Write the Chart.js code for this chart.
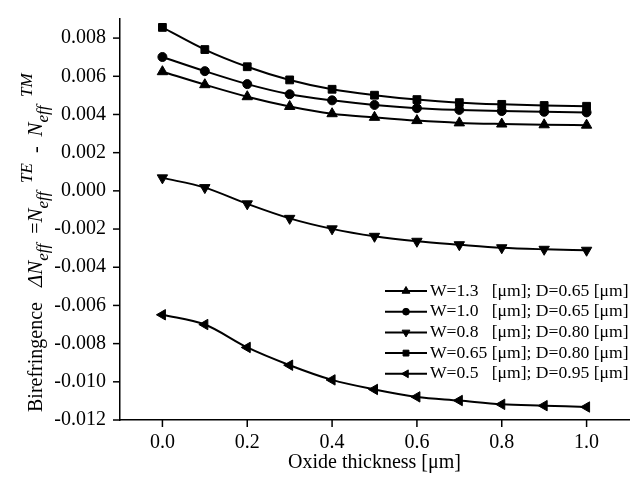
<!DOCTYPE html>
<html>
<head>
<meta charset="utf-8">
<script src="https://cdn.jsdelivr.net/npm/chart.js@4.4.1/dist/chart.umd.min.js"></script>
<style>
  html, body { margin: 0; padding: 0; background: #fff; }
  #wrap { width: 638px; height: 484px; }
</style>
</head>
<body>
<div id="wrap"><canvas id="birefChart" width="638" height="484"></canvas></div>
<script>
// Oxide thickness values (x) in um
const oxideThickness = [0.0, 0.1, 0.2, 0.3, 0.4, 0.5, 0.6, 0.7, 0.8, 0.9, 1.0];

// waveguide width / depth for each curve (legend text)
const widths = ['1.3', '1.0', '0.8', '0.65', '0.5'];
const depths = ['0.65', '0.65', '0.80', '0.80', '0.95'];

// birefringence
const biref13 = [0.00624, 0.00556, 0.00493, 0.00442, 0.00404, 0.00385, 0.00368, 0.00356, 0.00350, 0.00346, 0.00344];
const biref10 = [0.00701, 0.00627, 0.00559, 0.00506, 0.00474, 0.00450, 0.00433, 0.00424, 0.00418, 0.00414, 0.00411];
const biref08 = [0.00068, 0.00017, -0.00068, -0.00144, -0.00199, -0.00238, -0.00264, -0.00282, -0.00298, -0.00306, -0.00311];
const biref065 = [0.00856, 0.00740, 0.00650, 0.00581, 0.00532, 0.00501, 0.00478, 0.00462, 0.00453, 0.00447, 0.00443];
const biref05 = [-0.00649, -0.00700, -0.00820, -0.00913, -0.00990, -0.01040, -0.01079, -0.01098, -0.01118, -0.01125, -0.01132];

const seriesValues = [biref13, biref10, biref08, biref065, biref05];
const markers = [
    { style: 'triangle', rotation: 0, radius: 6 },
    { style: 'circle', rotation: 0, radius: 4.5 },
    { style: 'triangle', rotation: 180, radius: 6 },
    { style: 'rect', rotation: 0, radius: 5.5 },
    { style: 'triangle', rotation: -90, radius: 6 }
];

const SERIF = '"Liberation Serif", "Times New Roman", serif';

// tick marks: long on labelled ticks, short in between
const axisTicks = {
    id: 'axisTicks',
    afterDraw(chart) {
        const { ctx, scales: { x, y } } = chart;
        ctx.save();
        ctx.strokeStyle = '#000';
        ctx.lineWidth = 1.5;
        x.ticks.forEach(t => {
            const px = x.getPixelForValue(t.value);
            const len = t.label !== null && t.label !== undefined ? 7 : 4;
            ctx.beginPath();
            ctx.moveTo(px, x.top);
            ctx.lineTo(px, x.top + len);
            ctx.stroke();
        });
        y.ticks.forEach(t => {
            const py = y.getPixelForValue(t.value);
            const len = t.label !== null && t.label !== undefined ? 7 : 4;
            ctx.beginPath();
            ctx.moveTo(y.right, py);
            ctx.lineTo(y.right - len, py);
            ctx.stroke();
        });
        ctx.restore();
    }
};

// rotated y title with sub/superscripts
const yTitle = {
    id: 'yTitle',
    afterDraw(chart) {
        const ctx = chart.ctx;
        const reg = '20px ' + SERIF;
        const ital = 'italic 21px ' + SERIF;
        const small = 'italic 17px ' + SERIF;
        const parts = [
            { t: 'Birefringence   ', f: reg, dy: 0 },
            { t: '\u0394N', f: ital, dy: 0 },
            { t: 'eff', f: small, dy: 6 },
            { t: '  =', f: reg, dy: 0 },
            { t: 'N', f: ital, dy: 0 },
            { t: 'eff', f: small, dy: 6 },
            { t: '  TE', f: small, dy: -10 },
            { t: '  -  ', f: reg, dy: 0 },
            { t: 'N', f: ital, dy: 0 },
            { t: 'eff', f: small, dy: 6 },
            { t: '  TM', f: small, dy: -10 }
        ];
        ctx.save();
        ctx.translate(42, chart.chartArea.bottom - 8);
        ctx.rotate(-Math.PI / 2);
        ctx.fillStyle = '#000';
        ctx.textBaseline = 'alphabetic';
        let pos = 0;
        parts.forEach(p => {
            ctx.font = p.f;
            ctx.fillText(p.t, pos, p.dy);
            pos += ctx.measureText(p.t).width;
        });
        ctx.restore();
    }
};

// legend drawn inside the plot, line + marker + text
const legendBox = {
    id: 'legendBox',
    afterDraw(chart) {
        const { ctx, chartArea } = chart;
        const x0 = chartArea.right - 244;
        const y0 = chartArea.top + 272;
        const rowH = 20.7;
        const font = '17.6px ' + SERIF;
        ctx.save();
        ctx.font = font;
        const colOffset = ctx.measureText('W=0.65 ').width;
        chart.data.datasets.forEach((ds, i) => {
            const cy = y0 + i * rowH;
            ctx.strokeStyle = '#000';
            ctx.fillStyle = '#000';
            ctx.lineWidth = 2;
            ctx.beginPath();
            ctx.moveTo(x0, cy);
            ctx.lineTo(x0 + 42, cy);
            ctx.stroke();
            ctx.lineWidth = 1;
            Chart.helpers.drawPoint(ctx, {
                pointStyle: ds.pointStyle,
                rotation: ds.pointRotation,
                radius: ds.pointRadius * 0.75,
                borderWidth: 1
            }, x0 + 21, cy);
            ctx.font = font;
            ctx.textBaseline = 'middle';
            ctx.fillText('W=' + widths[i], x0 + 45, cy);
            ctx.fillText('[\u03BCm]; D=' + depths[i] + ' [\u03BCm]', x0 + 45 + colOffset, cy);
        });
        ctx.restore();
    }
};

function renderChart() {
    Chart.defaults.font.family = SERIF;
    Chart.defaults.color = '#000';

    const datasets = seriesValues.map((vals, i) => ({
        label: 'W=' + widths[i] + ' D=' + depths[i],
        data: oxideThickness.map((x, j) => ({ x: x, y: vals[j] })),
        borderColor: '#000',
        backgroundColor: '#000',
        borderWidth: 2,
        cubicInterpolationMode: 'monotone',
        pointStyle: markers[i].style,
        pointRotation: markers[i].rotation,
        pointRadius: markers[i].radius,
        pointBackgroundColor: '#000',
        pointBorderColor: '#000',
        pointBorderWidth: 1,
        fill: false
    }));

    new Chart(document.getElementById('birefChart'), {
        type: 'line',
        data: { datasets: datasets },
        options: {
            responsive: false,
            animation: false,
            devicePixelRatio: 1,
            layout: { padding: { top: 8, right: 9, left: 0, bottom: 0 } },
            plugins: {
                legend: { display: false },
                tooltip: { enabled: false }
            },
            scales: {
                x: {
                    type: 'linear',
                    min: -0.1,
                    max: 1.1,
                    afterFit: s => { s.height = 64; },
                    border: { display: true, color: '#000', width: 1.5 },
                    grid: { display: true, drawOnChartArea: false, drawTicks: true, tickLength: 7, tickColor: 'rgba(0,0,0,0)' },
                    ticks: {
                        stepSize: 0.1,
                        maxTicksLimit: 100,
                        autoSkip: false,
                        maxRotation: 0,
                        padding: 4,
                        font: { size: 20 },
                        callback: v => {
                            const k = Math.round(v * 10);
                            return (k % 2 === 0 && k >= 0 && k <= 10) ? (k / 10).toFixed(1) : null;
                        }
                    },
                    title: {
                        display: true,
                        text: 'Oxide thickness [\u03BCm]',
                        font: { size: 20 },
                        padding: { top: 0, bottom: 9 }
                    }
                },
                y: {
                    type: 'linear',
                    min: -0.012,
                    max: 0.009,
                    afterFit: s => { s.width = 120; },
                    border: { display: true, color: '#000', width: 1.5 },
                    grid: { display: true, drawOnChartArea: false, drawTicks: true, tickLength: 7, tickColor: 'rgba(0,0,0,0)' },
                    ticks: {
                        stepSize: 0.001,
                        maxTicksLimit: 100,
                        autoSkip: false,
                        padding: 7,
                        font: { size: 20 },
                        callback: v => {
                            const k = Math.round(v * 1000);
                            return (k % 2 === 0 && k <= 8) ? (k / 1000).toFixed(3) : null;
                        }
                    }
                }
            }
        },
        plugins: [axisTicks, yTitle, legendBox]
    });
}

document.addEventListener('DOMContentLoaded', renderChart);
</script>
</body>
</html>
